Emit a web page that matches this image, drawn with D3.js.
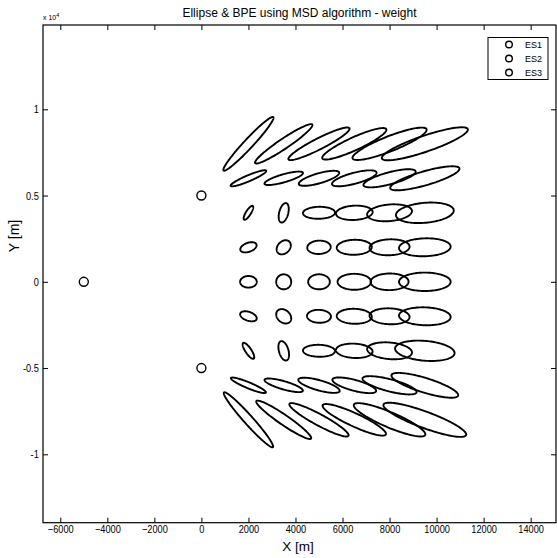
<!DOCTYPE html>
<html>
<head>
<meta charset="utf-8">
<script src="https://cdn.jsdelivr.net/npm/d3@7/dist/d3.min.js"></script>
<style>
  html, body { margin: 0; padding: 0; background: #fff; }
  svg { display: block; }
  text { font-family: "Liberation Sans", Arial, Helvetica, sans-serif; fill: #000; }
  .tick-label { font-size: 11px; }
</style>
</head>
<body>
<svg id="chart" width="557" height="558"></svg>
<script>
// Grid of estimated positions (m)
const columnX = [2000, 3500, 5000, 6500, 8000, 9500];
const rowY = [8000, 6000, 4000, 2000, 0, -2000, -4000, -6000, -8000];

// Error ellipse half-extents along x (m), one list per row (top to bottom)
const extentX = [
  [1067, 1220, 1301, 1365, 1577, 1830],
  [757, 819, 859, 948, 1110, 1474],
  [204, 215, 681, 779, 954, 1230],
  [346, 301, 498, 745, 851, 1098],
  [353, 319, 460, 711, 809, 1098],
  [353, 319, 510, 745, 851, 1098],
  [247, 227, 681, 779, 954, 1265],
  [744, 816, 880, 930, 1150, 1420],
  [1050, 1169, 1260, 1348, 1522, 1760]
];
// Error ellipse half-extents along y (m)
const extentY = [
  [1559, 1142, 945, 913, 939, 957],
  [466, 390, 436, 462, 526, 696],
  [405, 564, 348, 417, 492, 595],
  [297, 410, 388, 435, 463, 521],
  [336, 435, 435, 463, 481, 533],
  [292, 417, 375, 435, 463, 521],
  [464, 562, 348, 417, 492, 590],
  [450, 395, 440, 455, 530, 720],
  [1594, 1113, 968, 916, 968, 990]
];
// x/y correlation of each ellipse (sets the tilt)
const correlation = [
  [0.969, 0.952, 0.926, 0.893, 0.867, 0.859],
  [0.914, 0.786, 0.724, 0.702, 0.731, 0.795],
  [0.80, 0.40, 0.05, 0.11, 0.20, 0.22],
  [0.40, 0.28, 0.05, 0.05, 0.08, 0.08],
  [0.0, 0.0, 0.0, 0.0, 0.02, 0.0],
  [-0.40, -0.28, -0.05, -0.05, -0.08, -0.08],
  [-0.80, -0.40, -0.05, -0.11, -0.20, -0.22],
  [-0.91, -0.78, -0.72, -0.70, -0.73, -0.79],
  [-0.97, -0.95, -0.925, -0.89, -0.87, -0.86]
];

// Base stations
const stationNames = ["ES1", "ES2", "ES3"];
const stationX = [0, 0, -5000];
const stationY = [5000, -5000, 0];

// Axis ticks
const xTicks = [-6000, -4000, -2000, 0, 2000, 4000, 6000, 8000, 10000, 12000, 14000];
const yTicks = [-10000, -5000, 0, 5000, 10000];
const yTickLabels = ["-1", "-0.5", "0", "0.5", "1"];

const titleText = "Ellipse & BPE using MSD algorithm - weight";
const xLabel = "X [m]";
const yLabel = "Y [m]";

const svg = d3.select("#chart");
const plot = { left: 43, right: 556, top: 25, bottom: 522.7 };

const x = d3.scaleLinear().domain([-6735, 15077]).range([plot.left, plot.right]);
const y = d3.scaleLinear().domain([-13965, 14887]).range([plot.bottom, plot.top]);

// Frame
svg.append("rect")
  .attr("x", plot.left).attr("y", plot.top)
  .attr("width", plot.right - plot.left).attr("height", plot.bottom - plot.top)
  .attr("fill", "none").attr("stroke", "#000").attr("stroke-width", 1.2);

// Inward ticks on all four sides
const tickLen = 5;
const axB = d3.axisBottom(x).tickValues(xTicks).tickSize(-tickLen).tickPadding(3).tickFormat(d3.format("d"));
const axT = d3.axisTop(x).tickValues(xTicks).tickSize(-tickLen).tickFormat("");
const axL = d3.axisLeft(y).tickValues(yTicks).tickSize(-tickLen).tickPadding(5)
  .tickFormat((d, i) => yTickLabels[i]);
const axR = d3.axisRight(y).tickValues(yTicks).tickSize(-tickLen).tickFormat("");

function styleAxis(g) {
  g.select(".domain").remove();
  g.selectAll(".tick line").attr("stroke", "#000").attr("stroke-width", 1);
  g.selectAll(".tick text").attr("class", "tick-label").attr("fill", "#000")
    .attr("transform", "scale(0.84,1)");
}
svg.append("g").attr("transform", `translate(0,${plot.bottom})`).call(axB).call(styleAxis);
svg.append("g").attr("transform", `translate(0,${plot.top})`).call(axT).call(styleAxis);
svg.append("g").attr("transform", `translate(${plot.left},0)`).call(axL).call(styleAxis);
svg.append("g").attr("transform", `translate(${plot.right},0)`).call(axR).call(styleAxis);

// Exponent note for the y axis
const expo = svg.append("text").attr("x", plot.left).attr("y", 20).style("font-size", "7px");
expo.append("tspan").text("x 10");
expo.append("tspan").attr("dy", -3).style("font-size", "5.5px").text("4");

// Title and axis labels
svg.append("text").attr("x", (plot.left + plot.right) / 2).attr("y", 17)
  .attr("text-anchor", "middle").style("font-size", "12px").text(titleText);
svg.append("text").attr("x", 298).attr("y", 551)
  .attr("text-anchor", "middle").style("font-size", "13.5px").text(xLabel);
svg.append("text").attr("transform", "translate(19,236) rotate(-90)")
  .attr("text-anchor", "middle").style("font-size", "14px").text(yLabel);

// Error ellipses from x/y extents and correlation
const steps = d3.range(0, 120).map(i => i / 120 * 2 * Math.PI);
const ellipseLine = d3.line().x(p => x(p[0])).y(p => y(p[1])).curve(d3.curveLinearClosed);
const ellipses = [];
rowY.forEach((cy, r) => {
  columnX.forEach((cx, c) => {
    ellipses.push({ cx, cy, ex: extentX[r][c], ey: extentY[r][c], rho: correlation[r][c] });
  });
});
svg.append("g").selectAll("path").data(ellipses).join("path")
  .attr("d", e => {
    const s = Math.sqrt(1 - e.rho * e.rho);
    return ellipseLine(steps.map(t => [
      e.cx + e.ex * Math.cos(t),
      e.cy + e.ey * (e.rho * Math.cos(t) + s * Math.sin(t))
    ]));
  })
  .attr("fill", "none").attr("stroke", "#000").attr("stroke-width", 1.9);

// Stations
svg.append("g").selectAll("circle").data(stationNames).join("circle")
  .attr("cx", (d, i) => x(stationX[i])).attr("cy", (d, i) => y(stationY[i]))
  .attr("r", 4.5).attr("fill", "none").attr("stroke", "#000").attr("stroke-width", 1.4);

// Legend
const legend = svg.append("g");
legend.append("rect").attr("x", 488).attr("y", 37.5).attr("width", 60).attr("height", 42)
  .attr("fill", "#fff").attr("stroke", "#000").attr("stroke-width", 1);
stationNames.forEach((name, i) => {
  const ly = 44.5 + i * 14;
  legend.append("circle").attr("cx", 509).attr("cy", ly).attr("r", 3.3)
    .attr("fill", "none").attr("stroke", "#000").attr("stroke-width", 1.4);
  legend.append("text").attr("x", 525).attr("y", ly + 3.5).style("font-size", "9px").text(name);
});
</script>
</body>
</html>
